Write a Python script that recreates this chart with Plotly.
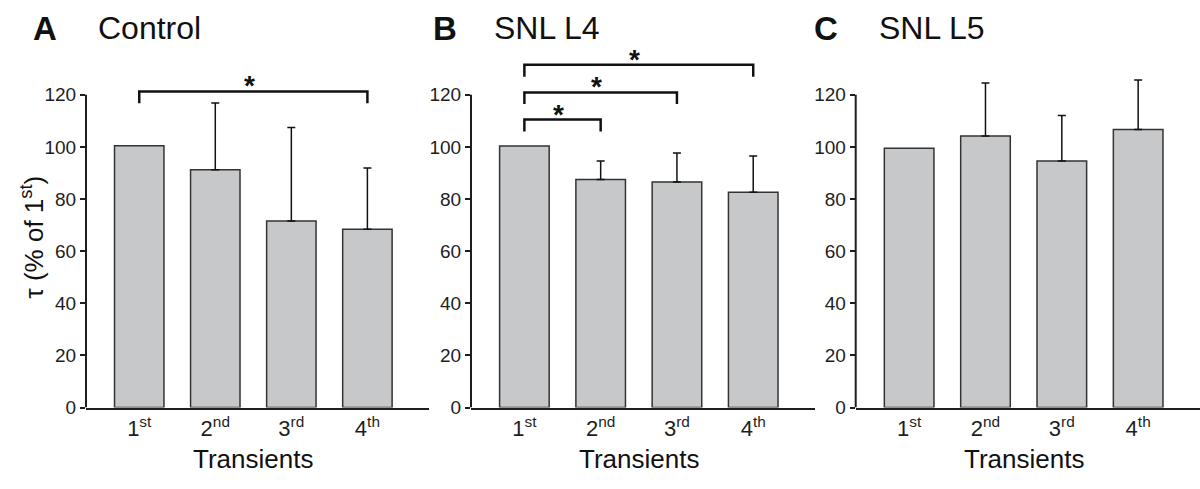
import plotly.graph_objects as go

# ---- data ----
categories = ["1<sup>st</sup>", "2<sup>nd</sup>", "3<sup>rd</sup>", "4<sup>th</sup>"]
control_mean = [100.5, 91.3, 71.6, 68.4]
control_sd = [None, 25.6, 35.9, 23.5]
snl_l4_mean = [100.4, 87.5, 86.6, 82.6]
snl_l4_sd = [None, 7.1, 11.1, 13.9]
snl_l5_mean = [99.5, 104.2, 94.6, 106.7]
snl_l5_sd = [None, 20.3, 17.5, 19.0]
y_ticks = [0, 20, 40, 60, 80, 100, 120]

panel_letters = ["A", "B", "C"]
panel_titles = ["Control", "SNL L4", "SNL L5"]
# significance brackets: (panel index, from category, to category, bracket height, drop)
brackets = [
    (0, 0, 3, 121.3, 4.5),
    (1, 0, 3, 131.5, 4.6),
    (1, 0, 2, 120.9, 4.4),
    (1, 0, 1, 110.5, 4.6),
]

FONT = "Liberation Sans, Arial, sans-serif"
W, H = 1200, 489
BAR_FILL = "#c7c8ca"
DARK = "#1e1e1e"

domains_x = [(86 / W, 429 / W), (471 / W, 815 / W), (855.7 / W, 1.0)]
y_bottom = (H - 417) / H
y_top = (H - 17) / H
YMAX = 150

fig = go.Figure()
series = [(control_mean, control_sd), (snl_l4_mean, snl_l4_sd), (snl_l5_mean, snl_l5_sd)]
for i, (means, sds) in enumerate(series):
    ax = "" if i == 0 else str(i + 1)
    fig.add_trace(go.Bar(
        x=categories, y=means,
        xaxis="x" + ax, yaxis="y" + ax,
        width=0.65,
        marker=dict(color=BAR_FILL, line=dict(color="#333333", width=1.5)),
        showlegend=False, hoverinfo="y",
    ))
    # upper error bars only where an SD exists
    ex = [c for c, s in zip(categories, sds) if s is not None]
    ey = [m for m, s in zip(means, sds) if s is not None]
    es = [s for s in sds if s is not None]
    fig.add_trace(go.Scatter(
        x=ex, y=ey, mode="markers",
        marker=dict(size=1, opacity=0),
        xaxis="x" + ax, yaxis="y" + ax,
        error_y=dict(type="data", symmetric=False, array=es,
                     arrayminus=[0] * len(es), color="#111111",
                     thickness=1.5, width=4),
        showlegend=False, hoverinfo="skip",
    ))
    fig.layout["xaxis" + ax] = dict(
        domain=list(domains_x[i]), anchor="y" + ax,
        range=[-0.7, 3.81], type="category",
        showline=True, linecolor=DARK, linewidth=2,
        ticks="", showgrid=False, zeroline=False,
        tickfont=dict(family=FONT, size=22, color=DARK),
    )
    fig.layout["yaxis" + ax] = dict(
        domain=[y_bottom, y_top], anchor="x" + ax,
        range=[0, YMAX], tickvals=y_ticks,
        showline=False, ticks="outside", ticklen=5, tickwidth=1.5,
        tickcolor=DARK, showgrid=False, zeroline=False,
        tickfont=dict(family=FONT, size=19, color=DARK),
    )
    # y axis line from 0 to 120
    fig.add_shape(type="line", xref="x" + ax + " domain", yref="y" + ax,
                  x0=0, x1=0, y0=0, y1=y_ticks[-1],
                  line=dict(color=DARK, width=2))
    # x axis title
    fig.add_annotation(text="Transients", xref="x" + ax, yref="paper",
                       x=1.5, y=1 - 470 / H, yanchor="middle", showarrow=False,
                       font=dict(family=FONT, size=26, color="#111111"))
    # panel title
    fig.add_annotation(text="<b>" + panel_letters[i] + "</b>", xref="paper", yref="paper",
                       x=[31, 431, 812][i] / W, xanchor="left",
                       y=1 - 29 / H, yanchor="middle", showarrow=False,
                       font=dict(family=FONT, size=33, color="#111111"))
    fig.add_annotation(text=panel_titles[i], xref="paper", yref="paper",
                       x=[96, 492, 877][i] / W, xanchor="left",
                       y=1 - 29 / H, yanchor="middle", showarrow=False,
                       font=dict(family=FONT, size=32, color="#111111"))

for (p, c0, c1, h, drop) in brackets:
    ax = "" if p == 0 else str(p + 1)
    fig.add_shape(type="path", xref="x" + ax, yref="y" + ax,
                  path=f"M {c0},{h - drop} L {c0},{h} L {c1},{h} L {c1},{h - drop}",
                  line=dict(color="#111111", width=2.5))
    fig.add_annotation(text="<b>*</b>", xref="x" + ax, yref="y" + ax,
                       x=(c0 + c1) / 2 - 0.05, y=h, yanchor="bottom", yshift=-12,
                       showarrow=False,
                       font=dict(family=FONT, size=28, color="#111111"))

# y axis title
fig.add_annotation(text="τ (% of 1<sup>st</sup>)", xref="paper", yref="paper",
                   x=33 / W, y=1 - 243 / H, textangle=-90, showarrow=False,
                   xanchor="center", yanchor="middle",
                   font=dict(family=FONT, size=26, color="#111111"))

fig.update_layout(
    width=W, height=H,
    margin=dict(l=0, r=0, t=0, b=0),
    plot_bgcolor="white", paper_bgcolor="white",
    bargap=0.35,
)

fig.write_html("out.html", config={"displayModeBar": False},
               post_script="document.body.style.margin='0';document.body.style.overflow='hidden';")
